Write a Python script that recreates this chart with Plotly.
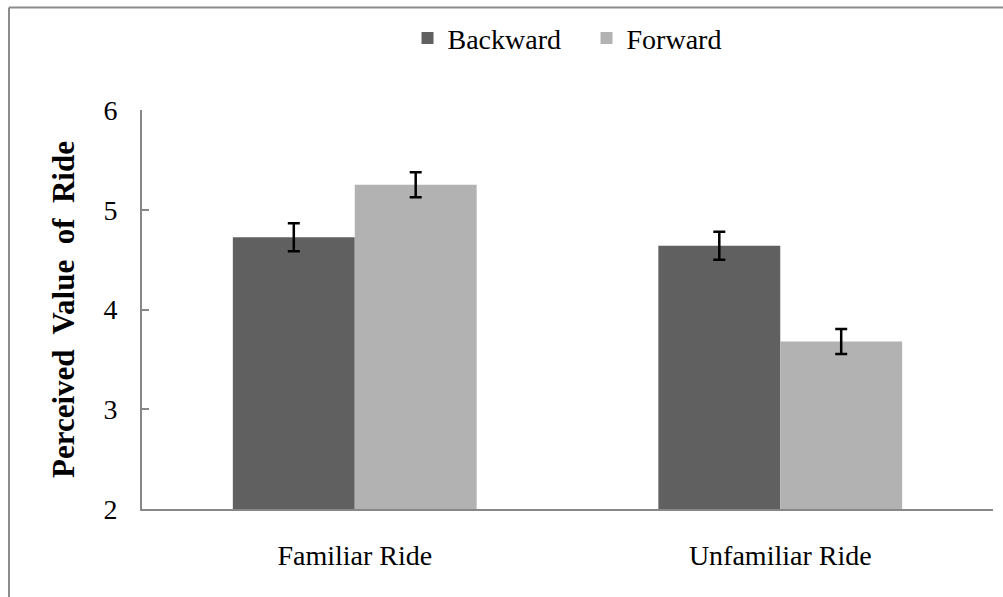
import plotly.graph_objects as go

# Ride familiarity conditions and mean perceived value by direction
categories = ["Familiar Ride", "Unfamiliar Ride"]
backward_means = [4.725, 4.64]
backward_err = [0.14, 0.14]
forward_means = [5.25, 3.68]
forward_err = [0.125, 0.125]
y_ticks = [2, 3, 4, 5, 6]

FONT = "Liberation Serif, Times New Roman, serif"
AXIS_GRAY = "#878787"
GAP = "\u00a0 "

fig = go.Figure()
fig.add_trace(go.Bar(
    name="Backward", x=categories, y=backward_means,
    marker=dict(color="#606060", line=dict(width=0)),
    error_y=dict(type="data", array=backward_err, color="black",
                 thickness=2.5, width=6),
))
fig.add_trace(go.Bar(
    name="Forward", x=categories, y=forward_means,
    marker=dict(color="#b2b2b2", line=dict(width=0)),
    error_y=dict(type="data", array=forward_err, color="black",
                 thickness=2.5, width=6),
))

# Outer chart frame (left and top edges)
fig.add_shape(type="line", xref="paper", yref="paper",
              x0=-0.1563, x1=-0.1563, y0=1.2566, y1=-0.3,
              line=dict(color="#8c8c8c", width=2))
fig.add_shape(type="line", xref="paper", yref="paper",
              x0=-0.1563, x1=1.1, y0=1.2566, y1=1.2566,
              line=dict(color="#8c8c8c", width=2))

title_text = "<b>" + GAP.join(["Perceived", "Value", "of", "Ride"]) + "</b>"

fig.update_layout(
    width=1003, height=597,
    margin=dict(l=142, r=10, t=110, b=87.5),
    paper_bgcolor="white", plot_bgcolor="white",
    barmode="group", bargap=0.427, bargroupgap=0,
    font=dict(family=FONT, size=28, color="black"),
    showlegend=True,
    legend=dict(orientation="h", x=0.312, y=1.18, xanchor="left",
                yanchor="middle", font=dict(size=28), bgcolor="rgba(0,0,0,0)",
                traceorder="normal", entrywidth=134, entrywidthmode="pixels"),
    xaxis=dict(showline=True, linecolor=AXIS_GRAY, linewidth=2,
               ticks="", showgrid=False, ticklabelstandoff=20),
    yaxis=dict(range=[2, 6], tickvals=y_ticks, showline=True,
               linecolor=AXIS_GRAY, linewidth=2, ticks="inside",
               ticklen=7, tickwidth=2, tickcolor=AXIS_GRAY,
               showgrid=False, zeroline=False, ticklabelstandoff=17,
               title=dict(text=title_text, font=dict(size=31), standoff=20)),
)

fig.write_html("out.html")
